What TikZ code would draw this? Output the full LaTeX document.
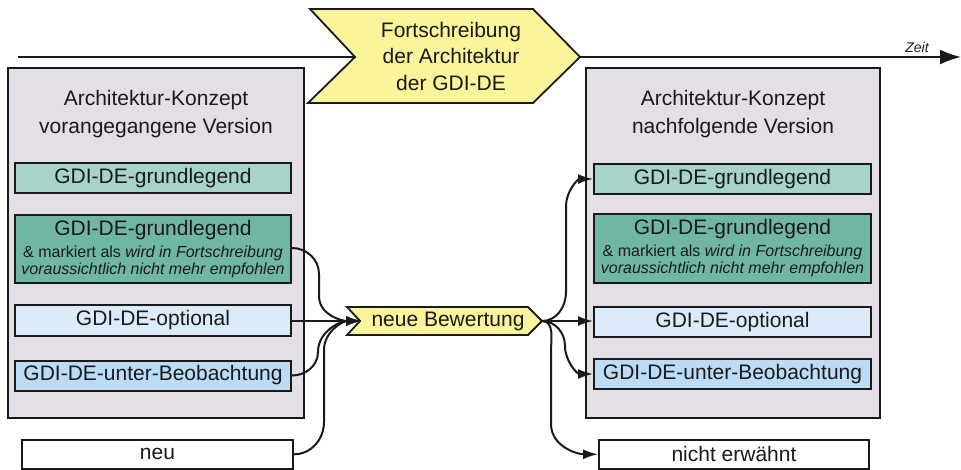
\documentclass[tikz,border=0pt]{standalone}
\usepackage{fontspec}
\setmainfont{Liberation Sans}
\usetikzlibrary{arrows.meta}
\definecolor{bigfill}{HTML}{E4DEE7}
\definecolor{tealA}{HTML}{A7D4C9}
\definecolor{tealB}{HTML}{70B6A5}
\definecolor{blueA}{HTML}{DCEBFA}
\definecolor{blueB}{HTML}{BBDCF4}
\definecolor{chev}{HTML}{FAF59B}
\definecolor{ink}{HTML}{1A1A1A}
\tikzset{
  bigbox/.style={draw=ink, line width=2pt, fill=bigfill, inner sep=0pt, minimum width=295pt, minimum height=350pt},
  itembox/.style={draw=ink, line width=2pt, inner sep=0pt, minimum height=30pt, text=ink,
    font=\fontsize{21}{24}\selectfont},
  titletext/.style={align=center, text=ink, font=\fontsize{21}{28}\selectfont, inner sep=0pt},
  chevshape/.style={draw=ink, line width=1.8pt, fill=chev, line join=miter},
  conn/.style={draw=ink, line width=2pt, -{Latex[length=15pt,width=10pt]}},
}
\begin{document}
\begin{tikzpicture}[x=1pt,y=-1pt]
\useasboundingbox (0,0) rectangle (961,470);
% time line
\coordinate (tstart) at (18,57);
\coordinate (tend) at (961,57);
\draw[draw=ink, line width=2pt, -{Latex[length=21pt,width=15pt]}] (tstart) -- (tend);
\node[text=ink, font=\fontsize{14}{16}\itshape] (zeit) at (917,47) {Zeit};
% big chevron
\draw[chevshape] (310,9) -- (533,9) -- (580,57) -- (533,103) -- (308,103) -- (355,57) -- cycle;
\node[titletext, font=\fontsize{21}{26.5}\selectfont] (fort) at (451,56) {Fortschreibung\\der Architektur\\der GDI-DE};
% big boxes
\node[bigbox, minimum width=296pt] (L) at (156,243) {};
\node[bigbox, minimum width=294pt] (R) at (733,243) {};
\node[titletext] (Lt) at (156,114) {Architektur-Konzept\\vorangegangene Version};
\node[titletext] (Rt) at (733,114) {Architektur-Konzept\\nachfolgende Version};
% left items
\node[itembox, fill=tealA, minimum width=276pt] (L1) at (153,178) {GDI-DE-grundlegend};
\node[itembox, fill=tealB, minimum width=276pt, minimum height=68pt, align=center,
  font=\fontsize{16}{17}\selectfont] (L2) at (153,249)
  {{\fontsize{21}{24}\selectfont GDI-DE-grundlegend}\\[5pt]\& markiert als \textit{wird in Fortschreibung}\\\textit{voraussichtlich nicht mehr empfohlen}};
\node[itembox, fill=blueA, minimum width=276pt] (L3) at (153,320.5) {GDI-DE-optional};
\node[itembox, fill=blueB, minimum width=276pt] (L4) at (153,375.5) {GDI-DE-unter-Beobachtung};
\node[itembox, fill=white, minimum width=271pt, minimum height=29pt] (neu) at (157.5,454.3) {neu};
% right items
\node[itembox, fill=tealA, minimum width=277pt] (R1) at (732.5,179) {GDI-DE-grundlegend};
\node[itembox, fill=tealB, minimum width=277pt, minimum height=69pt, align=center,
  font=\fontsize{16}{17}\selectfont] (R2) at (732.5,248.5)
  {{\fontsize{21}{24}\selectfont GDI-DE-grundlegend}\\[5pt]\& markiert als \textit{wird in Fortschreibung}\\\textit{voraussichtlich nicht mehr empfohlen}};
\node[itembox, fill=blueA, minimum width=277pt] (R3) at (732.5,322) {GDI-DE-optional};
\node[itembox, fill=blueB, minimum width=277pt] (R4) at (732.5,374) {GDI-DE-unter-Beobachtung};
\node[itembox, fill=white, minimum width=270pt, minimum height=29pt] (nicht) at (734,454.3) {nicht erwähnt};
% neue Bewertung chevron
\draw[chevshape] (347,307) -- (528,307) -- (542,321) -- (528,335) -- (347,335) -- (360,321) -- cycle;
\coordinate (nbIn) at (361,321);
\coordinate (nbOut) at (542,321);
\node[text=ink, font=\fontsize{21}{24}\selectfont, inner sep=0pt] (nb) at (448,321) {neue Bewertung};
% connectors left
\draw[conn] (L2.east |- 0,248) to[out=0,in=90] (319,274) -- (319,296) to[out=-90,in=180] (nbIn);
\draw[conn] (L3.east |- 0,321) -- (nbIn);
\draw[conn] (L4.east) to[out=0,in=-90] (318,352) to[out=90,in=180] (nbIn);
\draw[conn] (neu.east) to[out=0,in=-90] (324,422) -- (324,350) to[out=90,in=180] (nbIn);
% connectors right
\draw[conn] (nbOut) to[out=0,in=-90] (566,292) -- (566,206) to[out=90,in=180] (R1.west);
\draw[conn] (nbOut) -- (R3.west |- 0,321);
\draw[conn] (nbOut) to[out=0,in=90] (565,346) to[out=-90,in=180] (R4.west);
\draw[conn] (nbOut) to[out=0,in=90] (551,352) -- (551,424) to[out=-90,in=180] (nicht.west);
\end{tikzpicture}
\end{document}
